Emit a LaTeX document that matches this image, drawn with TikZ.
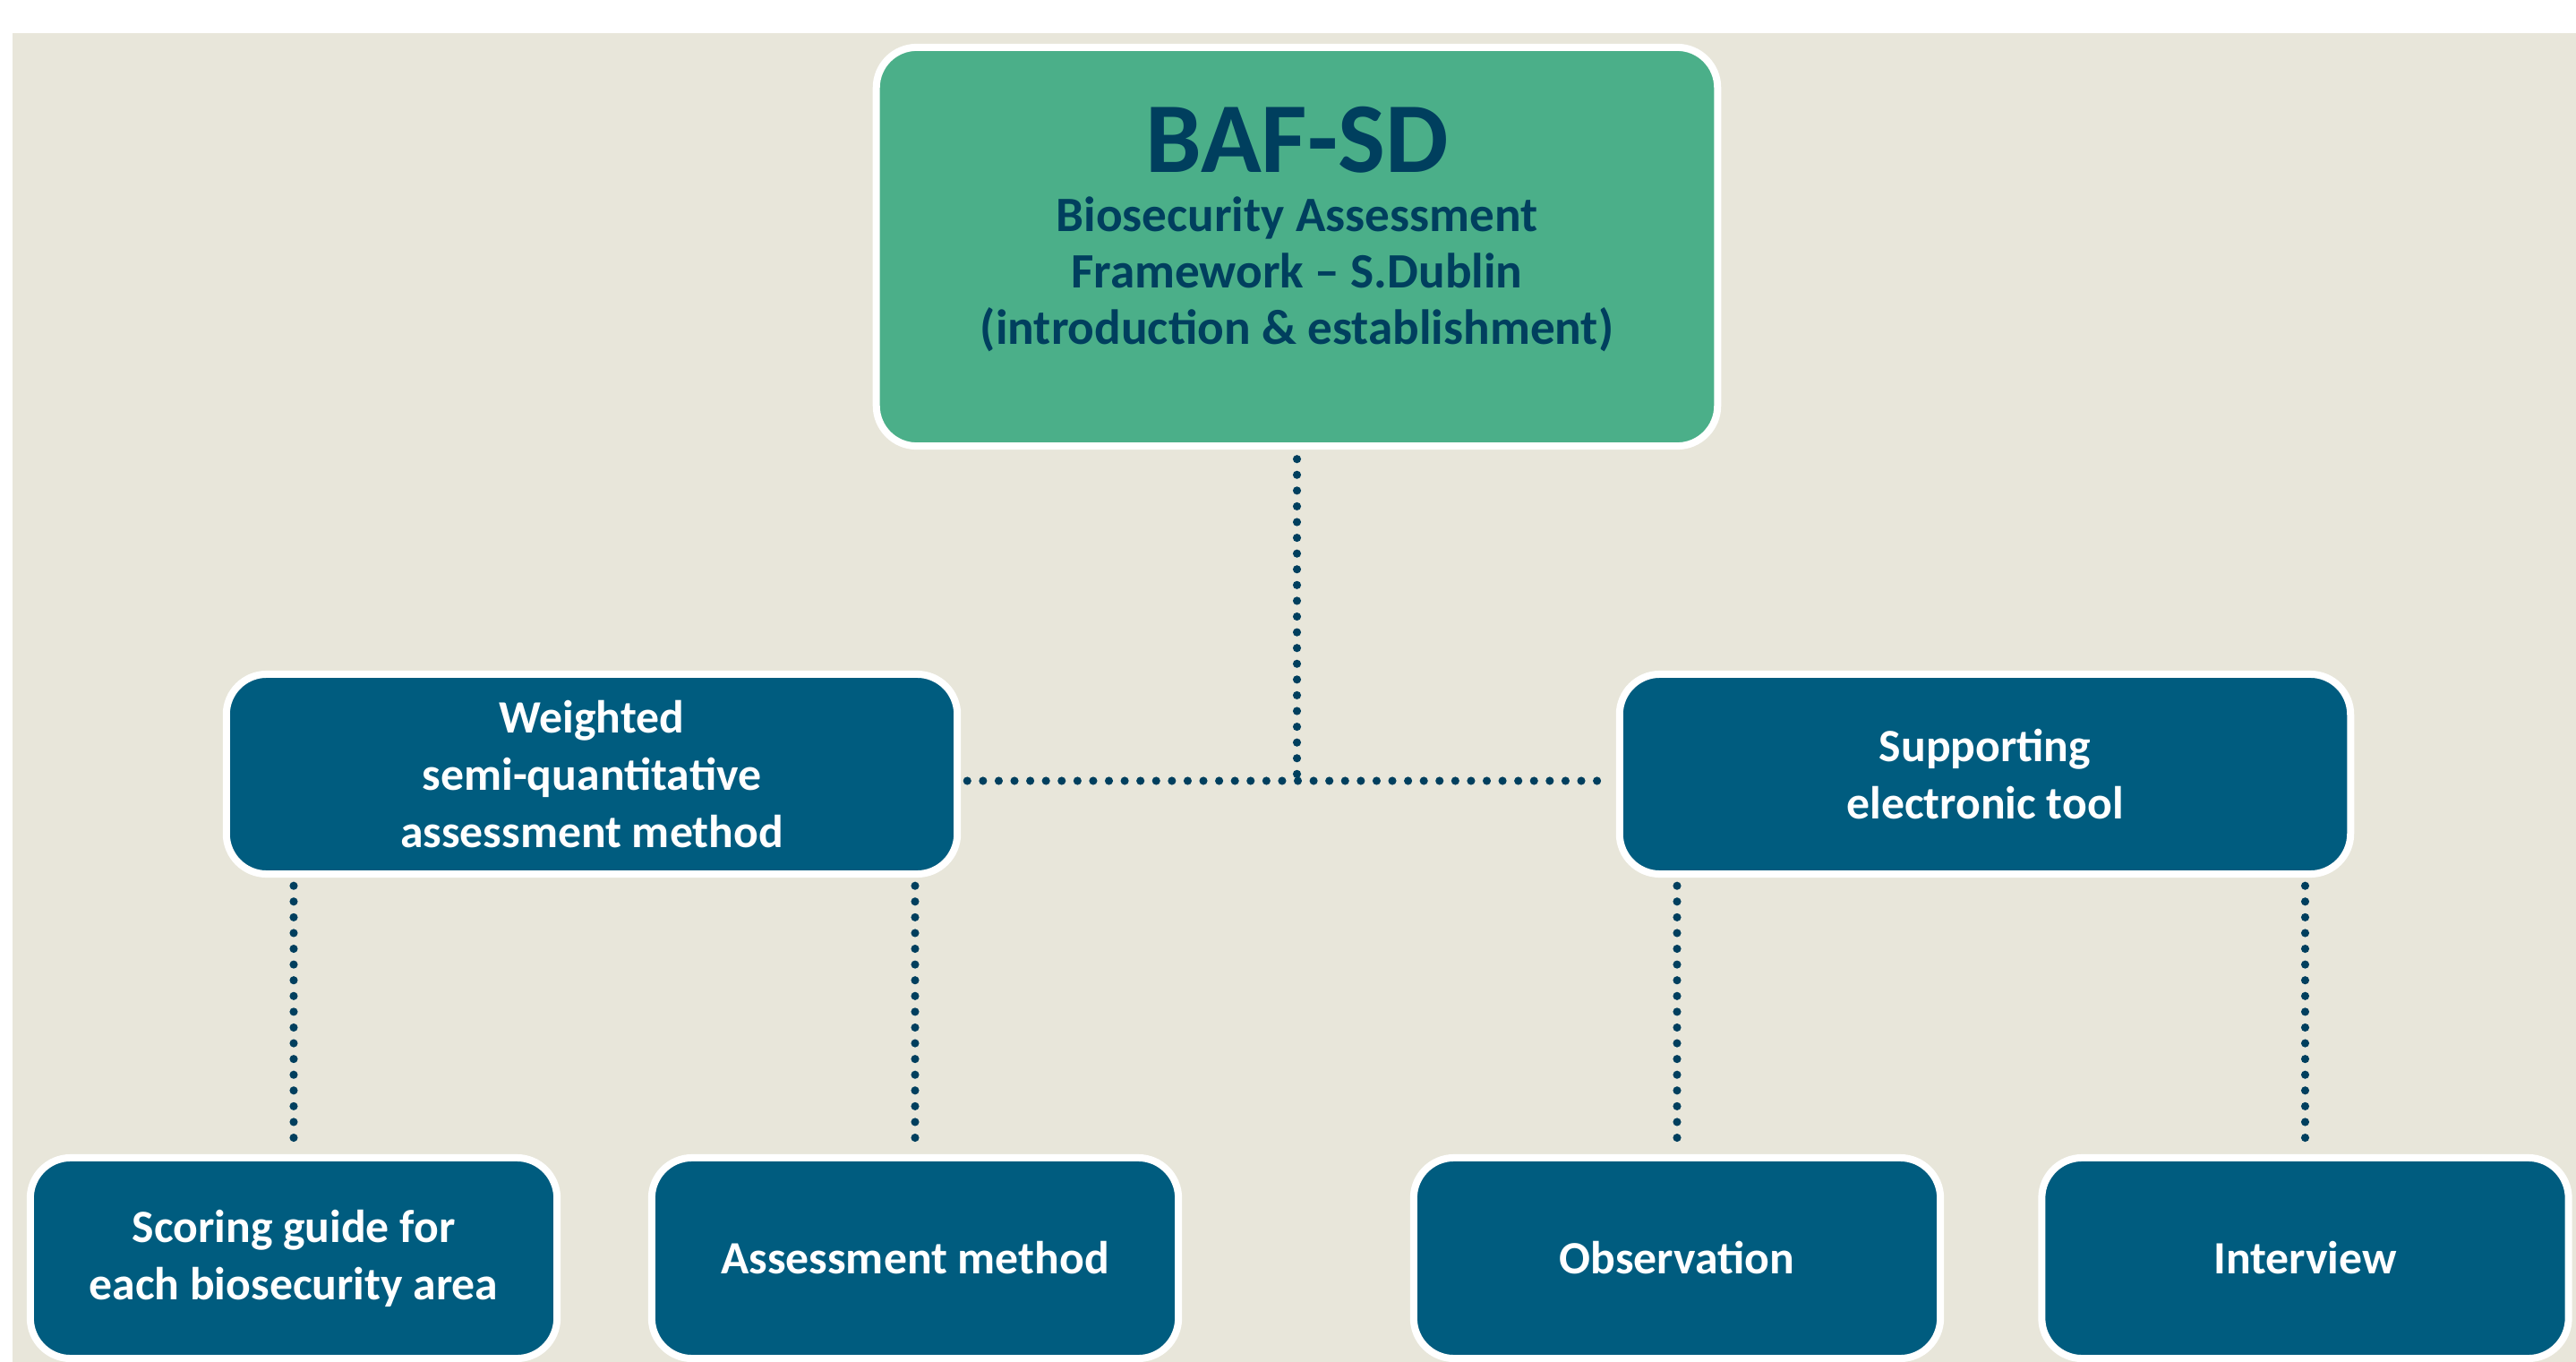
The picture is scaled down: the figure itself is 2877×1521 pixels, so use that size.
\documentclass[tikz,border=0pt]{standalone}
\usepackage{fontspec}
\setmainfont{Carlito}
\definecolor{paper}{HTML}{E8E6DA}
\definecolor{leaf}{HTML}{4BAF89}
\definecolor{petrol}{HTML}{005C7F}
\definecolor{navy}{HTML}{003F5E}
\begin{document}
\begin{tikzpicture}[x=0.01cm,y=-0.01cm,
  box/.style={rounded corners=0.45cm, draw=white, line width=0.08cm,
    align=center, inner sep=0pt, font=\bfseries\fontsize{14.7}{18.2}\selectfont},
  topbox/.style={box, fill=leaf, minimum width=9.39cm, minimum height=4.45cm},
  toptext/.style={align=center, text=navy, inner sep=0pt,
    font=\bfseries\fontsize{15.7}{17.9}\selectfont},
  bluebox/.style={box, fill=petrol, text=white},
  midbox/.style={bluebox, minimum width=8.16cm, minimum height=2.23cm},
  lowbox/.style={bluebox, minimum width=5.88cm, minimum height=2.24cm},
  dots/.style={draw=navy, line width=2.6pt, line cap=round, dash pattern=on 0pt off 5pt}]
\useasboundingbox (0,0) rectangle (2877,1521);
\fill[paper] (14,37) rectangle (2877,1521);

% framework box
\node[topbox] (top) at (1448.5,275.5) {};
\node[toptext] (toplabel) at (1448.5,256)
  {{\fontsize{31.8}{35}\selectfont BAF-SD}\\[1pt]
   Biosecurity Assessment\\ Framework -- S.Dublin\\ (introduction \& establishment)};

% second level
\node[midbox] (midL) at (661,864.5) {Weighted\\ semi-quantitative\\ assessment method};
\node[midbox] (midR) at (2217,864.5) {Supporting\\ electronic tool};

% third level
\node[lowbox] (b1) at (328,1405) {Scoring guide for\\ each biosecurity area};
\node[lowbox] (b2) at (1022,1405) {Assessment method};
\node[lowbox] (b3) at (1873,1405) {Observation};
\node[lowbox] (b4) at (2574.5,1405) {Interview};

% dotted connectors
\coordinate (j) at (1448.5,872);
\draw[dots, shorten <=3pt] (top.south) -- (j);
\draw[dots, shorten <=2pt, shorten >=3pt] (midL.east |- j) -- (midR.west |- j);
\foreach \b/\m in {b1/midL, b2/midL, b3/midR, b4/midR}
  \draw[dots, shorten <=2.6pt, shorten >=4pt] (\b.north |- \m.south) -- (\b.north);
\end{tikzpicture}
\end{document}
